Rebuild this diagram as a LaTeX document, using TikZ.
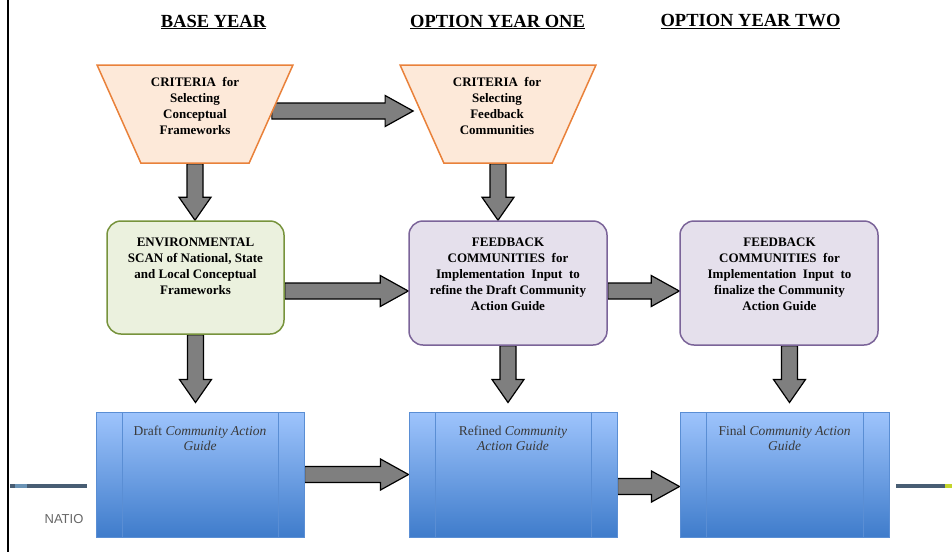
\documentclass[tikz,border=0pt]{standalone}
\usepackage{fontspec}
\setmainfont{Liberation Serif}
\setsansfont{Liberation Sans}
\usetikzlibrary{shapes.geometric,positioning,calc,backgrounds}

\definecolor{critfill}{HTML}{FDE9D9}
\definecolor{critline}{HTML}{E9813A}
\definecolor{scanfill}{HTML}{EBF1DE}
\definecolor{scanline}{HTML}{77933C}
\definecolor{feedfill}{HTML}{E5E0EC}
\definecolor{feedline}{HTML}{7B6499}
\definecolor{guidetop}{HTML}{9EC4FC}
\definecolor{guidebot}{HTML}{3F7CCB}
\definecolor{guideline}{HTML}{5A8ED4}
\definecolor{guideink}{HTML}{3A3A3A}
\definecolor{arrowgray}{HTML}{7F7F7F}
\definecolor{slate}{HTML}{485D73}
\definecolor{slatelight}{HTML}{6A93B5}
\definecolor{limeend}{HTML}{C4D52C}

\tikzset{
  heading/.style={font=\fontsize{18.5}{20}\selectfont\bfseries, inner sep=0pt},
  criteria/.style={trapezium, trapezium left angle=112, trapezium right angle=112,
    trapezium stretches=true, minimum width=196pt, minimum height=98pt,
    inner sep=3pt, fill=critfill, draw=critline, line width=1.5pt},
  scanbox/.style={rectangle, rounded corners=14pt, minimum width=177pt, minimum height=113pt,
    fill=scanfill, draw=scanline, line width=1.5pt},
  feedbox/.style={rectangle, rounded corners=14pt, minimum width=198pt, minimum height=124pt,
    fill=feedfill, draw=feedline, line width=1.5pt},
  boxtext/.style={align=center, inner sep=0pt, font=\fontsize{13}{16}\selectfont\bfseries},
  guide/.style={rectangle, minimum height=125pt, top color=guidetop, bottom color=guidebot,
    draw=guideline, line width=1pt,
    path picture={\draw[guideline, line width=1pt]
      ([xshift=26pt]path picture bounding box.north west) -- ([xshift=26pt]path picture bounding box.south west)
      ([xshift=-26pt]path picture bounding box.north east) -- ([xshift=-26pt]path picture bounding box.south east);}},
  guidetext/.style={align=center, inner sep=0pt, text=guideink, font=\fontsize{13.5}{15}\selectfont},
  bigarrow/.style={fill=arrowgray, draw=black, line width=1.2pt, line join=miter},
}

% block arrows: shaft from the first point, tip at the second
\newcommand{\rightblock}[2]{\draw[bigarrow] let \p1=#1, \p2=#2 in
  (\x1,\y1+8pt) -- (\x2-28pt,\y1+8pt) -- (\x2-28pt,\y1+15.5pt) -- (\x2,\y1)
  -- (\x2-28pt,\y1-15.5pt) -- (\x2-28pt,\y1-8pt) -- (\x1,\y1-8pt) -- cycle;}
\newcommand{\downblock}[2]{\draw[bigarrow] let \p1=#1, \p2=#2 in
  (\x1-8pt,\y1) -- (\x1-8pt,\y2+23pt) -- (\x1-16pt,\y2+23pt) -- (\x1,\y2)
  -- (\x1+16pt,\y2+23pt) -- (\x1+8pt,\y2+23pt) -- (\x1+8pt,\y1) -- cycle;}

\begin{document}
\begin{tikzpicture}[x=1pt,y=-1pt]
\useasboundingbox (0,0) rectangle (952,552);

% slide remains
\draw[line width=2.5pt] (8,0) -- (8,552);
\fill[slate] (10,484) rectangle (87,488);
\fill[slatelight] (15,484) rectangle (27,488);
\fill[slate] (896,484) rectangle (945,488);
\fill[limeend] (945,484) rectangle (952,488);
\node[font=\sffamily\fontsize{13}{14}\selectfont, text=black!60, inner sep=0pt] (natio) at (64,519.5) {NATIO};

% headings
\node[heading] (baseHd) at (213.5,22) {\underline{BASE YEAR}};
\node[heading] (opt1Hd) at (497.5,22) {\underline{OPTION YEAR ONE}};
\node[heading] (opt2Hd) at (750.5,22) {\underline{OPTION YEAR TWO}};

% criteria
\node[criteria] (crit1) at (195,114) {};
\node[criteria] (crit2) at (498,114) {};
\node[boxtext] (crit1Txt) at (195,106) {CRITERIA\ \ for\\Selecting\\Conceptual\\Frameworks};
\node[boxtext] (crit2Txt) at (497,106) {CRITERIA\ \ for\\Selecting\\Feedback\\Communities};

% scan and feedback
\node[scanbox] (env) at (195.5,277.5) {};
\node[feedbox] (fb1) at (508,283) {};
\node[feedbox] (fb2) at (779,283) {};
\node[boxtext] (envTxt) at (195.5,266) {ENVIRONMENTAL\\SCAN of National, State\\and Local Conceptual\\Frameworks};
\node[boxtext] (fb1Txt) at (508,274) {FEEDBACK\\COMMUNITIES\ \ for\\Implementation\ \ Input\ \ to\\refine the Draft Community\\Action Guide};
\node[boxtext] (fb2Txt) at (779.5,274) {FEEDBACK\\COMMUNITIES\ \ for\\Implementation\ \ Input\ \ to\\finalize the Community\\Action Guide};

% guides
\node[guide, minimum width=208pt] (draft) at (200,474.5) {};
\node[guide, minimum width=208pt] (refined) at (513,474.5) {};
\node[guide, minimum width=209pt] (final) at (784.5,474.5) {};
\node[guidetext] (draftTxt) [below=14pt of draft.north] {Draft \textit{Community Action}\\\textit{Guide}};
\node[guidetext] (refinedTxt) [below=14pt of refined.north] {Refined \textit{Community}\\\textit{Action Guide}};
\node[guidetext] (finalTxt) [below=14pt of final.north] {Final \textit{Community Action}\\\textit{Guide}};

\begin{scope}[on background layer]
  \rightblock{([yshift=3pt]crit1.east)}{([xshift=-8pt]crit2.west)}
  \rightblock{([yshift=-13.5pt]env.east)}{(fb1.west)}
  \rightblock{([yshift=-8pt]fb1.east)}{(fb2.west)}
  \rightblock{(draft.east)}{(refined.west)}
  \rightblock{([yshift=-12pt]refined.east)}{(final.west)}
  \downblock{(crit1.south)}{(env.north)}
  \downblock{(crit2.south)}{(fb1.north)}
  \downblock{(env.south)}{([yshift=9pt]draft.north)}
  \downblock{(fb1.south)}{([yshift=9pt]refined.north)}
  \downblock{([xshift=10.5pt]fb2.south)}{([yshift=9pt]final.north)}
\end{scope}
\end{tikzpicture}
\end{document}
